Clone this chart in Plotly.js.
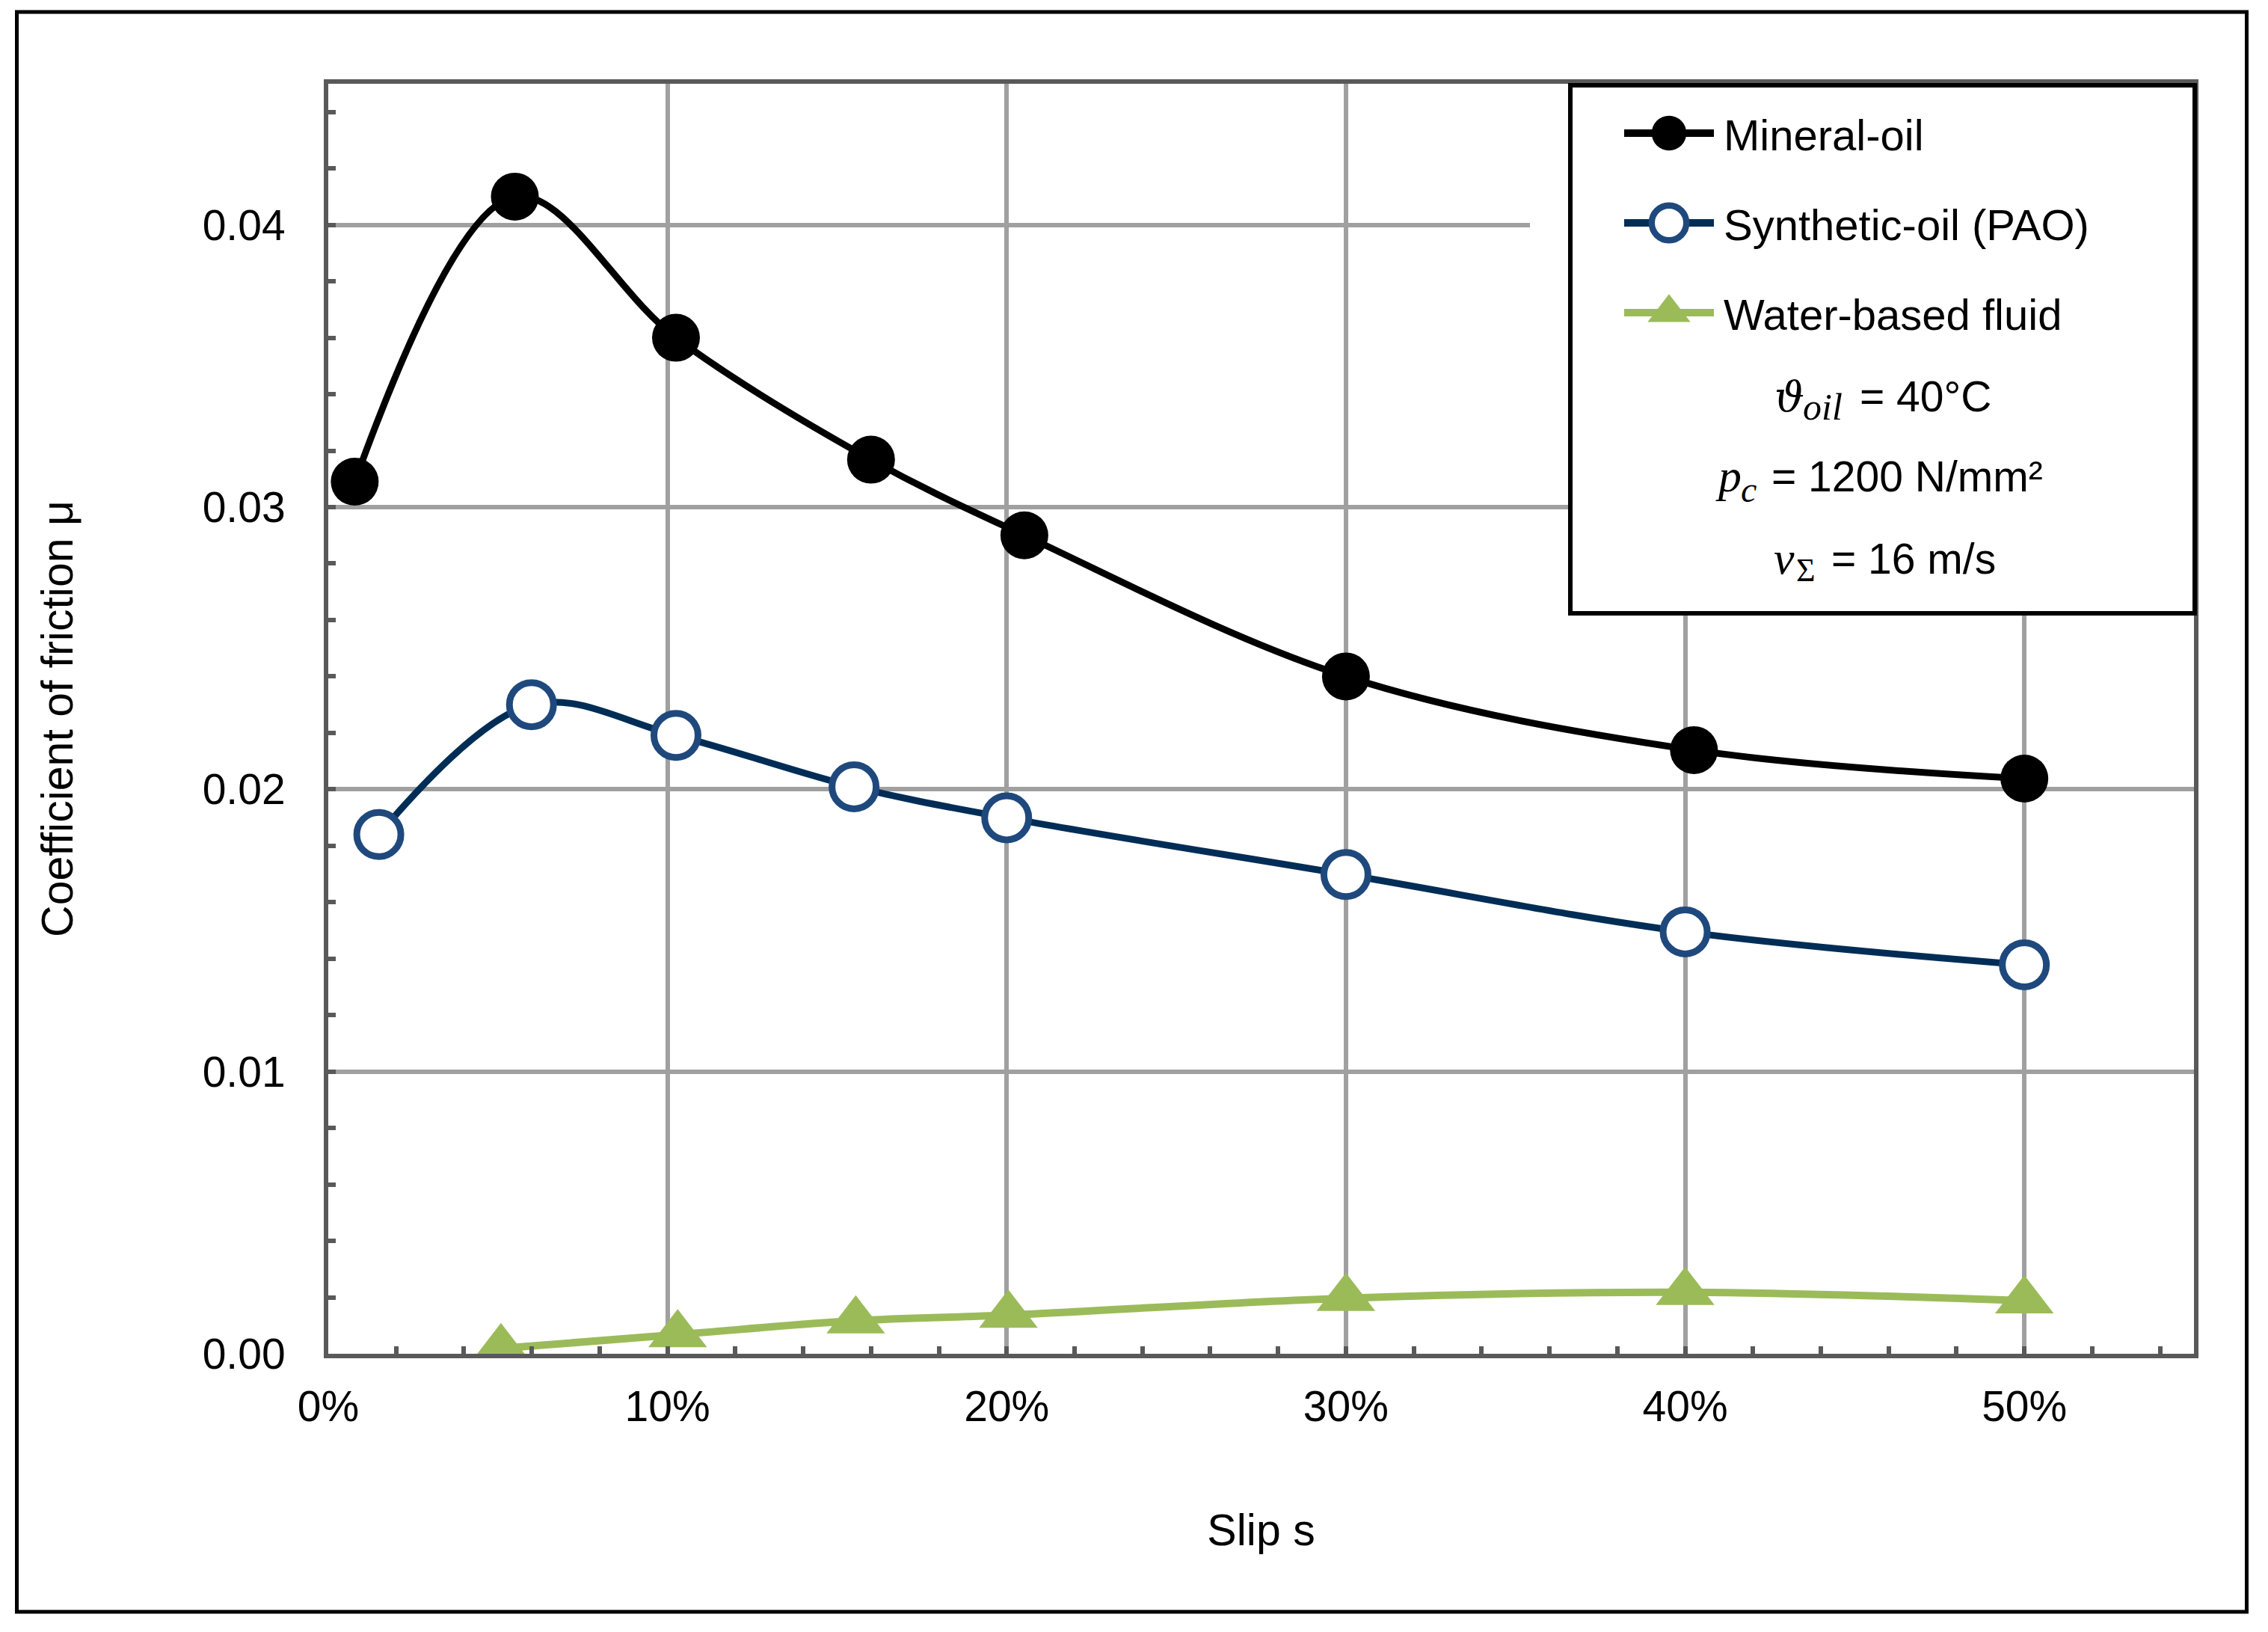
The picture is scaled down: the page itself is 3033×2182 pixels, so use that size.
<!DOCTYPE html>
<html>
<head>
<meta charset="utf-8">
<script src="https://cdn.plot.ly/plotly-3.0.1.min.js"></script>
<style>
  html, body { margin: 0; padding: 0; background: #ffffff; }
  #chart { width: 3033px; height: 2182px; }
</style>
</head>
<body>
<div id="chart"></div>
<script>
// ---- data ----
const seriesNames = ['Mineral-oil', 'Synthetic-oil (PAO)', 'Water-based fluid'];

const slipMineral = [0.0078, 0.055, 0.1025, 0.160, 0.2052, 0.300, 0.4026, 0.500];
const muMineral   = [0.0309, 0.0410, 0.0360, 0.03168, 0.0290, 0.0240, 0.02139, 0.02038];

const slipSynthetic = [0.0149, 0.0599, 0.1025, 0.155, 0.200, 0.300, 0.400, 0.500];
const muSynthetic   = [0.0184, 0.0230, 0.02191, 0.02009, 0.01899, 0.01698, 0.01495, 0.01378];

const slipWater = [0.0509, 0.103, 0.1555, 0.2005, 0.300, 0.400, 0.500];
const muWater   = [0.00019, 0.00068, 0.00117, 0.00137, 0.00197, 0.00218, 0.00188];

const xTickVals = [0, 0.1, 0.2, 0.3, 0.4, 0.5];
const xTickText = ['0%', '10%', '20%', '30%', '40%', '50%'];
const yTickVals = [0, 0.01, 0.02, 0.03, 0.04];
const yTickText = ['0.00', '0.01', '0.02', '0.03', '0.04'];

// operating conditions shown inside the legend box (symbol, subscript, rest)
const condSymbols    = ['ϑ', 'p', 'v'];
const condSubscripts = ['oil', 'c', 'Σ'];
const condValues     = ['= 40°C', '= 1200 N/mm²', '= 16 m/s'];

// ---- styling ----
const FONT = 'Liberation Sans, Arial, sans-serif';
const SERIF = 'Liberation Serif, DejaVu Serif, serif';
const AXIS_COLOR = '#595959';
const GRID_COLOR = '#a0a0a0';

const traces = [
  {
    name: seriesNames[0], x: slipMineral, y: muMineral,
    type: 'scatter', mode: 'lines+markers',
    line: { color: '#000000', width: 9, shape: 'spline', smoothing: 1 },
    marker: { symbol: 'circle', size: 64, color: '#000000', line: { width: 0 } }
  },
  {
    name: seriesNames[1], x: slipSynthetic, y: muSynthetic,
    type: 'scatter', mode: 'lines+markers',
    line: { color: '#002d56', width: 9, shape: 'spline', smoothing: 1 },
    marker: { symbol: 'circle', size: 59, color: '#ffffff', line: { color: '#1f497d', width: 9 } }
  },
  {
    name: seriesNames[2], x: slipWater, y: muWater,
    type: 'scatter', mode: 'lines+markers',
    line: { color: '#9bbb59', width: 10, shape: 'spline', smoothing: 1 },
    marker: { symbol: 'triangle-up', size: 68, color: '#9bbb59', line: { width: 0 } }
  }
];

const ML = 439, MR = 99, MT = 112, MB = 372;
const W = 3033, H = 2182;
const PW = W - ML - MR, PH = H - MT - MB;
const px2x = p => (p - ML) / PW;
const py2y = p => (H - MB - p) / PH;

// layout of the condition lines (pixel positions inside the legend box)
const symStyle = [
  { family: 'DejaVu Serif, serif', size: 56, x: 2372, y: 530 },
  { family: SERIF, size: 62, x: 2293, y: 636 },
  { family: SERIF, size: 62, x: 2371, y: 746 }
];
const subStyle = [
  { size: 50, italic: true,  x: 2410, y: 544 },
  { size: 48, italic: true,  x: 2327, y: 654 },
  { size: 44, italic: false, x: 2401, y: 763 }
];
const valStyle = [
  { x: 2486, y: 530 },
  { x: 2368, y: 637 },
  { x: 2448, y: 747 }
];

const annotations = [];
for (let i = 0; i < 3; i++) {
  annotations.push({
    text: '<i>' + condSymbols[i] + '</i>', xref: 'paper', yref: 'paper',
    x: px2x(symStyle[i].x), y: py2y(symStyle[i].y), xanchor: 'left', yanchor: 'middle',
    showarrow: false, borderpad: 0,
    font: { family: symStyle[i].family, size: symStyle[i].size, color: '#000000' }
  });
  annotations.push({
    text: subStyle[i].italic ? '<i>' + condSubscripts[i] + '</i>' : condSubscripts[i],
    xref: 'paper', yref: 'paper',
    x: px2x(subStyle[i].x), y: py2y(subStyle[i].y), xanchor: 'left', yanchor: 'middle',
    showarrow: false, borderpad: 0,
    font: { family: SERIF, size: subStyle[i].size, color: '#000000' }
  });
  annotations.push({
    text: condValues[i], xref: 'paper', yref: 'paper',
    x: px2x(valStyle[i].x), y: py2y(valStyle[i].y), xanchor: 'left', yanchor: 'middle',
    showarrow: false, borderpad: 0,
    font: { family: FONT, size: 57, color: '#000000' }
  });
}

const layout = {
  width: W, height: H,
  margin: { l: ML, r: MR, t: MT, b: MB, pad: 0 },
  paper_bgcolor: '#ffffff', plot_bgcolor: '#ffffff',
  font: { family: FONT, size: 57, color: '#000000' },
  showlegend: true,
  legend: {
    x: px2x(2155), y: py2y(140), xanchor: 'left', yanchor: 'top',
    bgcolor: 'rgba(0,0,0,0)', borderwidth: 0,
    font: { family: FONT, size: 58, color: '#000000' },
    itemwidth: 120, traceorder: 'normal'
  },
  xaxis: {
    range: [0, 0.55], tickvals: xTickVals, ticktext: xTickText,
    showgrid: true, gridcolor: GRID_COLOR, gridwidth: 6,
    zeroline: false,
    showline: true, linecolor: AXIS_COLOR, linewidth: 6, mirror: true,
    ticks: 'inside', ticklen: 10, tickwidth: 6, tickcolor: AXIS_COLOR,
    ticklabelstandoff: 16,
    minor: { dtick: 0.02, tick0: 0, ticks: 'inside', ticklen: 10, tickwidth: 6, tickcolor: AXIS_COLOR, showgrid: false },
    tickfont: { family: FONT, size: 57, color: '#000000' },
    title: { text: 'Slip s', font: { family: FONT, size: 59, color: '#000000' }, standoff: 115 }
  },
  yaxis: {
    range: [0, 0.045], tickvals: yTickVals, ticktext: yTickText,
    showgrid: true, gridcolor: GRID_COLOR, gridwidth: 6,
    zeroline: false,
    showline: true, linecolor: AXIS_COLOR, linewidth: 6, mirror: true,
    ticks: 'inside', ticklen: 10, tickwidth: 6, tickcolor: AXIS_COLOR,
    ticklabelstandoff: 40,
    minor: { dtick: 0.002, tick0: 0, ticks: 'inside', ticklen: 10, tickwidth: 6, tickcolor: AXIS_COLOR, showgrid: false },
    tickfont: { family: FONT, size: 57, color: '#000000' },
    title: { text: 'Coefficient of friction μ', font: { family: FONT, size: 59, color: '#000000' }, standoff: 156 }
  },
  shapes: [
    // the 0.04 gridline stops short of the legend box in the reference
    { type: 'line', xref: 'paper', yref: 'y', layer: 'above',
      x0: px2x(2046), x1: px2x(2100), y0: 0.04, y1: 0.04,
      line: { color: '#ffffff', width: 8 } },
    // legend box
    { type: 'rect', xref: 'paper', yref: 'paper', layer: 'above',
      x0: px2x(2100), x1: px2x(2935), y0: py2y(820), y1: py2y(114),
      fillcolor: '#ffffff', line: { color: '#000000', width: 6 } },
    // outer frame
    { type: 'rect', xref: 'paper', yref: 'paper', layer: 'above',
      x0: px2x(22.5), x1: px2x(3004.5), y0: py2y(2155), y1: py2y(16),
      fillcolor: 'rgba(0,0,0,0)', line: { color: '#000000', width: 5 } }
  ],
  annotations: annotations
};

// Enlarge legend glyphs to match the reference (Plotly caps legend marker size).
const ROW_Y = [178, 298, 418];
const GLYPH_X0 = 2172, GLYPH_LEN = 120, TEXT_X = 133;
const LEG_MARKER = [ { k: 2.9, sw: 0 }, { k: 2.9, sw: 2.9 }, { k: 3.1, sw: 0 } ];
function fixLegend() {
  try {
    const gd = document.getElementById('chart');
    const leg = gd.querySelector('g.legend');
    if (!leg) return;
    const m = /translate\(\s*([-\d.e]+)[\s,]+([-\d.e]+)\s*\)/.exec(leg.getAttribute('transform') || '');
    if (!m) return;
    const lx = +m[1], ly = +m[2];
    leg.removeAttribute('clip-path');
    leg.querySelectorAll('.scrollbox').forEach(s => { s.removeAttribute('clip-path'); s.setAttribute('transform', 'translate(0,0)'); });
    leg.querySelectorAll('.groups').forEach(g => g.setAttribute('transform', 'translate(0,0)'));
    leg.querySelectorAll('.scrollbar').forEach(s => s.style.display = 'none');
    const items = leg.querySelectorAll('g.traces');
    items.forEach((it, i) => {
      if (i > 2) return;
      it.setAttribute('transform', 'translate(' + (GLYPH_X0 - lx) + ',' + (ROW_Y[i] - ly) + ')');
      it.querySelectorAll('.legendlines path').forEach(p => {
        p.setAttribute('d', 'M0,0h' + GLYPH_LEN);
        p.style.strokeWidth = '10px';
      });
      it.querySelectorAll('.legendpoints path').forEach(p => {
        const s = LEG_MARKER[i];
        p.setAttribute('transform', 'translate(' + (GLYPH_LEN / 2) + ',0) scale(' + s.k + ')');
        p.style.strokeWidth = s.sw + 'px';
      });
      const t = it.querySelector('text.legendtext');
      if (t) {
        t.setAttribute('x', TEXT_X);
        t.querySelectorAll('tspan.line').forEach(ts => ts.setAttribute('x', TEXT_X));
      }
    });
  } catch (e) { console.log(e); }
}

const gd = document.getElementById('chart');
Plotly.newPlot(gd, traces, layout, { staticPlot: true, displayModeBar: false }).then(() => {
  fixLegend();
  gd.on && gd.on('plotly_afterplot', fixLegend);
  setTimeout(fixLegend, 300);
});
</script>
</body>
</html>
